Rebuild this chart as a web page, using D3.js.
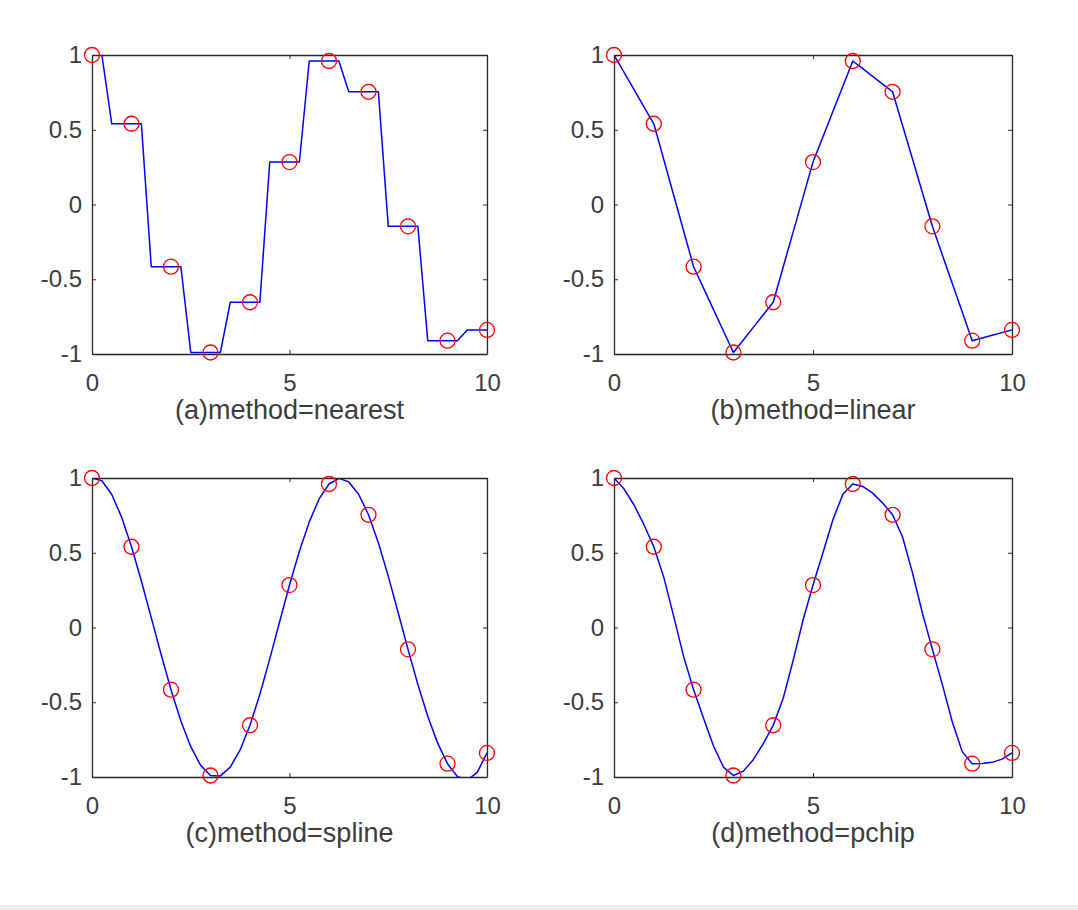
<!DOCTYPE html>
<html><head><meta charset="utf-8">
<script src="https://cdn.jsdelivr.net/npm/d3@7"></script>
<style>
html,body{margin:0;padding:0;background:#fff;}
svg{display:block;}
text{font-family:"Liberation Sans",Arial,sans-serif;}
</style></head>
<body>
<script>
// ---- data ----
const xData = [0,1,2,3,4,5,6,7,8,9,10];
const yData = [1, 0.540, -0.416, -0.990, -0.654, 0.284, 0.960, 0.754, -0.146, -0.911, -0.839];
const querySpacing = 0.25;
const methods = ["nearest","linear","spline","pchip"];
const titles = ["(a)method=nearest","(b)method=linear","(c)method=spline","(d)method=pchip"];
const xTicks = [0,5,10];
const yTicks = [-1,-0.5,0,0.5,1];
const yTickLabels = ["-1","-0.5","0","0.5","1"];

// ---- interpolation methods ----
function interpNearest(xs, ys, q){
  return q.map(v=>{
    let best=0, bd=Infinity;
    xs.forEach((x,i)=>{const d=Math.abs(v-x); if(d<bd-1e-12){bd=d;best=i;} else if(Math.abs(d-bd)<1e-12 && x>xs[best]){best=i;}});
    return ys[best];
  });
}
function seg(xs,v){ let k=0; while(k<xs.length-2 && v>xs[k+1]) k++; return k; }
function interpLinear(xs,ys,q){
  return q.map(v=>{const k=seg(xs,v); const t=(v-xs[k])/(xs[k+1]-xs[k]); return ys[k]+(ys[k+1]-ys[k])*t;});
}
function solve(A,b){
  const n=b.length; A=A.map(r=>r.slice()); b=b.slice();
  for(let c=0;c<n;c++){
    let p=c; for(let r=c+1;r<n;r++) if(Math.abs(A[r][c])>Math.abs(A[p][c])) p=r;
    [A[c],A[p]]=[A[p],A[c]]; [b[c],b[p]]=[b[p],b[c]];
    for(let r=c+1;r<n;r++){const f=A[r][c]/A[c][c]; for(let k=c;k<n;k++) A[r][k]-=f*A[c][k]; b[r]-=f*b[c];}
  }
  const x=new Array(n).fill(0);
  for(let r=n-1;r>=0;r--){let s=b[r]; for(let k=r+1;k<n;k++) s-=A[r][k]*x[k]; x[r]=s/A[r][r];}
  return x;
}
function interpSpline(xs,ys,q){
  const n=xs.length, h=[], d=[];
  for(let i=0;i<n-1;i++){h.push(xs[i+1]-xs[i]); d.push((ys[i+1]-ys[i])/h[i]);}
  const A=[...Array(n)].map(()=>new Array(n).fill(0)), b=new Array(n).fill(0);
  // not-a-knot end conditions
  A[0][0]=-1/h[0]; A[0][1]=1/h[0]+1/h[1]; A[0][2]=-1/h[1];
  A[n-1][n-3]=-1/h[n-3]; A[n-1][n-2]=1/h[n-3]+1/h[n-2]; A[n-1][n-1]=-1/h[n-2];
  for(let i=1;i<n-1;i++){A[i][i-1]=h[i-1]; A[i][i]=2*(h[i-1]+h[i]); A[i][i+1]=h[i]; b[i]=6*(d[i]-d[i-1]);}
  const M=solve(A,b);
  return q.map(v=>{
    const k=seg(xs,v), hk=h[k], a=xs[k+1]-v, c=v-xs[k];
    return M[k]*a*a*a/(6*hk)+M[k+1]*c*c*c/(6*hk)+(ys[k]/hk-M[k]*hk/6)*a+(ys[k+1]/hk-M[k+1]*hk/6)*c;
  });
}
function interpPchip(xs,ys,q){
  const n=xs.length,h=[],del=[];
  for(let i=0;i<n-1;i++){h.push(xs[i+1]-xs[i]); del.push((ys[i+1]-ys[i])/h[i]);}
  const dd=new Array(n).fill(0);
  for(let k=1;k<n-1;k++){
    if(del[k-1]*del[k]>0){const w1=2*h[k]+h[k-1], w2=h[k]+2*h[k-1]; dd[k]=(w1+w2)/(w1/del[k-1]+w2/del[k]);}
  }
  function endD(h0,h1,d0,d1){
    let v=((2*h0+h1)*d0-h0*d1)/(h0+h1);
    if(Math.sign(v)!==Math.sign(d0)) v=0;
    else if(Math.sign(d0)!==Math.sign(d1) && Math.abs(v)>Math.abs(3*d0)) v=3*d0;
    return v;
  }
  dd[0]=endD(h[0],h[1],del[0],del[1]);
  dd[n-1]=endD(h[n-2],h[n-3],del[n-2],del[n-3]);
  return q.map(v=>{
    const k=seg(xs,v), hk=h[k], t=(v-xs[k])/hk;
    const h00=2*t*t*t-3*t*t+1, h10=t*t*t-2*t*t+t, h01=-2*t*t*t+3*t*t, h11=t*t*t-t*t;
    return h00*ys[k]+h10*hk*dd[k]+h01*ys[k+1]+h11*hk*dd[k+1];
  });
}
const interp = {nearest:interpNearest, linear:interpLinear, spline:interpSpline, pchip:interpPchip};

// ---- layout ----
const W=1078,H=910;
const cols=[[92,487],[614,1012]], rows=[[55,354],[478,777]];
const axisColor="#262626", textColor="#3c3c3c";
const tickFont=24, titleFont=27;
const svg=d3.select("body").append("svg").attr("width",W).attr("height",H);
svg.append("rect").attr("width",W).attr("height",H).attr("fill","#fff");
svg.append("rect").attr("x",0).attr("y",905).attr("width",W).attr("height",5).attr("fill","#f0f0f0");
svg.append("line").attr("x1",0).attr("x2",W).attr("y1",905.5).attr("y2",905.5).attr("stroke","#e3e3e3");

const xq=d3.range(0, xData[xData.length-1]+1e-9, querySpacing);

methods.forEach((m,i)=>{
  const [x0,x1]=cols[i%2], [y0,y1]=rows[Math.floor(i/2)];
  const xs=d3.scaleLinear().domain([0,10]).range([x0,x1]);
  const ys=d3.scaleLinear().domain([-1,1]).range([y1,y0]);
  const g=svg.append("g");
  const cid="clip"+i;
  g.append("clipPath").attr("id",cid).append("rect").attr("x",x0).attr("y",y0).attr("width",x1-x0).attr("height",y1-y0);

  const yq=interp[m](xData,yData,xq);
  g.append("path").datum(xq.map((x,j)=>[x,yq[j]]))
    .attr("clip-path",`url(#${cid})`)
    .attr("d",d3.line().x(d=>xs(d[0])).y(d=>ys(d[1])))
    .attr("fill","none").attr("stroke","#0000ff").attr("stroke-width",1.5).attr("stroke-linejoin","round");

  const fmtY=d=>yTickLabels[yTicks.indexOf(d)];
  const ax=[
    [d3.axisBottom(xs).tickValues(xTicks).tickFormat(d3.format("d")), `translate(0,${y1})`, 20],
    [d3.axisTop(xs).tickValues(xTicks).tickFormat(""), `translate(0,${y0})`, 0],
    [d3.axisLeft(ys).tickValues(yTicks).tickFormat(fmtY), `translate(${x0},0)`, 10],
    [d3.axisRight(ys).tickValues(yTicks).tickFormat(""), `translate(${x1},0)`, 0]
  ];
  ax.forEach(([a,tr,pad],k)=>{
    a.tickSizeInner(-4).tickSizeOuter(0).tickPadding(pad);
    const ga=g.append("g").attr("transform",tr).call(a);
    ga.select(".domain").attr("stroke",axisColor).attr("stroke-width",1.3);
    ga.selectAll(".tick line").attr("stroke",axisColor).attr("stroke-width",1);
    ga.selectAll(".tick text").attr("fill",textColor).style("font-size",tickFont+"px")
      .style("font-family",'"Liberation Sans",Arial,sans-serif');
  });

  g.selectAll("circle").data(xData).join("circle")
    .attr("cx",d=>xs(d)).attr("cy",(d,j)=>ys(yData[j])).attr("r",7.5)
    .attr("fill","none").attr("stroke","#ff0000").attr("stroke-width",1.3);

  g.append("text").attr("x",(x0+x1)/2).attr("y",y1+65).attr("text-anchor","middle")
    .attr("fill",textColor).style("font-size",titleFont+"px").text(titles[i]);
});
</script>
</body></html>
